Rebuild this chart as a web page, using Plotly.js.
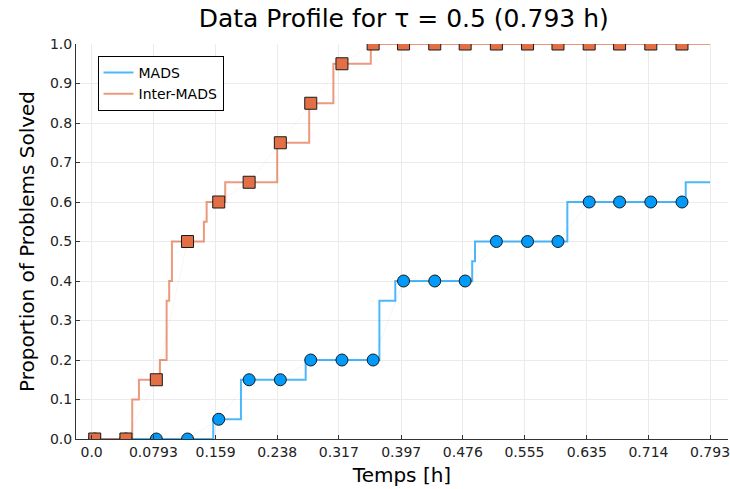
<!DOCTYPE html>
<html>
<head>
<meta charset="utf-8">
<script src="https://cdn.plot.ly/plotly-3.0.1.min.js"></script>
<style>html,body{margin:0;padding:0;background:#fff;}#chart{width:730px;height:489px;}</style>
</head>
<body>
<div id="chart"></div>
<script>
// Step profiles (time in hours, proportion solved)
const madsStepT = [0, 0.156, 0.1915, 0.2745, 0.369, 0.3894, 0.488, 0.4916, 0.610, 0.7618, 0.793];
const madsStepY = [0, 0.05, 0.15, 0.2, 0.35, 0.4, 0.45, 0.5, 0.6, 0.65, 0.65];
const interStepT = [0, 0.0521, 0.0607, 0.0876, 0.0962, 0.0995, 0.103, 0.144, 0.1475, 0.1713, 0.238, 0.279, 0.310, 0.358, 0.793];
const interStepY = [0, 0.1, 0.15, 0.2, 0.35, 0.4, 0.5, 0.55, 0.6, 0.65, 0.75, 0.85, 0.95, 1.0, 1.0];
// Sampled marker points
const markerT = [0.004, 0.044, 0.083, 0.123, 0.163, 0.202, 0.242, 0.281, 0.321, 0.361, 0.400, 0.440, 0.479, 0.519, 0.559, 0.598, 0.638, 0.677, 0.717, 0.757];
const madsMarkY = [0, 0, 0, 0, 0.05, 0.15, 0.15, 0.2, 0.2, 0.2, 0.4, 0.4, 0.4, 0.5, 0.5, 0.5, 0.6, 0.6, 0.6, 0.6];
const interMarkY = [0, 0, 0.15, 0.5, 0.6, 0.65, 0.75, 0.85, 0.95, 1, 1, 1, 1, 1, 1, 1, 1, 1, 1, 1];
const tickVals = [0.0, 0.0793, 0.159, 0.238, 0.317, 0.397, 0.476, 0.555, 0.635, 0.714, 0.793];
const tickText = ["0.0", "0.0793", "0.159", "0.238", "0.317", "0.397", "0.476", "0.555", "0.635", "0.714", "0.793"];
const yTickVals = [0, 0.1, 0.2, 0.3, 0.4, 0.5, 0.6, 0.7, 0.8, 0.9, 1.0];
const yTickText = ["0.0", "0.1", "0.2", "0.3", "0.4", "0.5", "0.6", "0.7", "0.8", "0.9", "1.0"];

const blue = '#009AFA', orange = '#E36F47';
const traces = [
  {x: madsStepT, y: madsStepY, type: 'scatter', mode: 'lines', name: 'MADS',
   line: {shape: 'hv', color: 'rgba(0,154,250,0.7)', width: 2}},
  {x: interStepT, y: interStepY, type: 'scatter', mode: 'lines', name: 'Inter-MADS',
   line: {shape: 'hv', color: 'rgba(227,111,71,0.7)', width: 2}},
  {x: markerT, y: madsMarkY, type: 'scatter', mode: 'lines+markers', showlegend: false,
   line: {color: 'rgba(0,154,250,0.08)', width: 1},
   marker: {symbol: 'circle', size: 12, color: blue, line: {color: '#1a1a1a', width: 1}}},
  {x: markerT, y: interMarkY, type: 'scatter', mode: 'lines+markers', showlegend: false,
   line: {color: 'rgba(227,111,71,0.08)', width: 1},
   marker: {symbol: 'square', size: 12, color: orange, line: {color: '#1a1a1a', width: 1}}}
];
const font = 'DejaVu Sans, sans-serif';
const layout = {
  width: 730, height: 489,
  margin: {l: 76, r: 2, t: 44, b: 50},
  paper_bgcolor: '#fff', plot_bgcolor: '#fff',
  font: {family: font, color: '#000'},
  title: {text: 'Data Profile for τ = 0.5 (0.793 h)', font: {size: 25, family: font}, x: 0.553, xanchor: 'center', y: 0.98, yanchor: 'top'},
  showlegend: true,
  legend: {x: 0.033, y: 0.97, xanchor: 'left', yanchor: 'top', bordercolor: '#000', borderwidth: 1,
           font: {size: 14, family: font}, bgcolor: '#fff', tracegroupgap: 0},
  xaxis: {range: [-0.020, 0.816], tickvals: tickVals, ticktext: tickText, ticks: 'inside', ticklen: 4,
          ticklabeloverflow: 'allow',
          tickcolor: '#333', showline: true, linecolor: '#333', linewidth: 1, mirror: false,
          showgrid: true, gridcolor: '#ebebeb', gridwidth: 1, zeroline: false,
          tickfont: {size: 14, family: font, color: '#222'},
          title: {text: 'Temps [h]', font: {size: 20, family: font}, standoff: 9}},
  yaxis: {range: [0, 1], tickvals: yTickVals, ticktext: yTickText, ticks: 'inside', ticklen: 4,
          tickcolor: '#333', showline: true, linecolor: '#333', linewidth: 1, mirror: false,
          showgrid: true, gridcolor: '#ebebeb', gridwidth: 1, zeroline: false,
          tickfont: {size: 14, family: font, color: '#222'},
          title: {text: 'Proportion of Problems Solved', font: {size: 20, family: font}, standoff: 9}}
};
Plotly.newPlot('chart', traces, layout, {displayModeBar: false, staticPlot: true});
</script>
</body>
</html>
